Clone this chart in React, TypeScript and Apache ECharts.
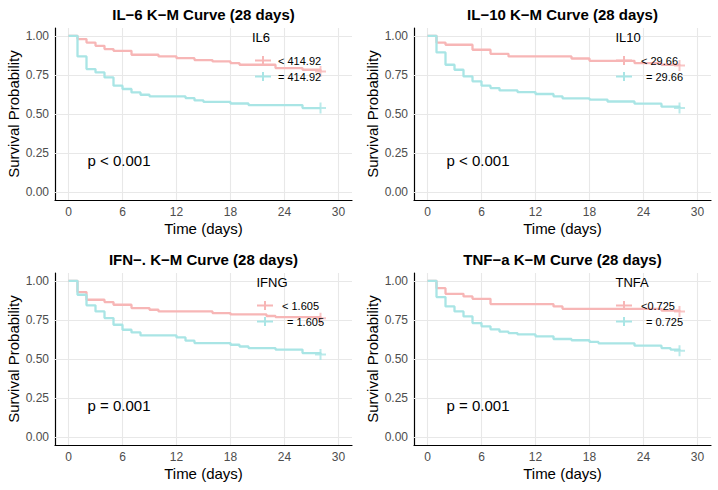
import React, { useEffect, useRef } from "react";
import * as echarts from "echarts";

// Kaplan–Meier step points: [day, survival probability]
const il6Low = [[0, 1], [1, 0.979], [2, 0.957], [3, 0.936], [4, 0.915], [5, 0.904], [7, 0.879], [10, 0.868], [12, 0.857], [14, 0.845], [16, 0.836], [18, 0.826], [19, 0.815], [23, 0.794], [26, 0.783], [28, 0.772]];
const il6High = [[0, 1], [1, 0.868], [2, 0.787], [3, 0.766], [4, 0.734], [5, 0.681], [6, 0.66], [7, 0.638], [8, 0.623], [9, 0.613], [13, 0.602], [14, 0.587], [15, 0.577], [18, 0.567], [20, 0.557], [26, 0.538], [28, 0.538]];
const il10Low = [[0, 1], [1, 0.957], [2, 0.943], [5, 0.911], [7, 0.885], [9, 0.868], [16, 0.855], [18, 0.84], [23, 0.826], [26, 0.815], [28, 0.81]];
const il10High = [[0, 1], [1, 0.894], [2, 0.815], [3, 0.783], [4, 0.74], [5, 0.709], [6, 0.681], [7, 0.666], [8, 0.651], [10, 0.64], [12, 0.628], [14, 0.613], [15, 0.6], [18, 0.592], [20, 0.58], [23, 0.566], [26, 0.547], [28, 0.538]];
const ifnLow = [[0, 1], [1, 0.928], [2, 0.879], [4, 0.864], [5, 0.847], [7, 0.826], [9, 0.815], [10, 0.804], [16, 0.794], [18, 0.785], [22, 0.775], [23, 0.768], [28, 0.76]];
const ifnHigh = [[0, 1], [1, 0.911], [2, 0.843], [3, 0.804], [4, 0.762], [5, 0.719], [6, 0.687], [7, 0.67], [8, 0.651], [12, 0.638], [13, 0.617], [14, 0.602], [18, 0.591], [19, 0.58], [20, 0.57], [23, 0.56], [26, 0.538], [28, 0.528]];
const tnfLow = [[0, 1], [1, 0.953], [2, 0.917], [4, 0.9], [5, 0.885], [7, 0.851], [14, 0.836], [15, 0.821], [26, 0.81], [28, 0.804]];
const tnfHigh = [[0, 1], [1, 0.896], [2, 0.836], [3, 0.804], [4, 0.772], [5, 0.73], [6, 0.709], [7, 0.69], [8, 0.675], [9, 0.666], [10, 0.657], [12, 0.645], [14, 0.628], [16, 0.62], [18, 0.609], [19, 0.6], [23, 0.585], [26, 0.57], [27, 0.56], [28, 0.553]];

const titles = ["IL\u22126 K\u2212M Curve (28 days)", "IL\u221210 K\u2212M Curve (28 days)", "IFN\u2212. K\u2212M Curve (28 days)", "TNF\u2212a K\u2212M Curve (28 days)"];
const legendTitles = ["IL6", "IL10", "IFNG", "TNFA"];
const lowLabels = ["< 414.92", "< 29.66", "< 1.605", "<0.725"];
const highLabels = ["= 414.92", "= 29.66", "= 1.605", "= 0.725"];
const pValues = ["p < 0.001", "p < 0.001", "p = 0.001", "p = 0.001"];
const lowData = [il6Low, il10Low, ifnLow, tnfLow];
const highData = [il6High, il10High, ifnHigh, tnfHigh];

const xTicks = [0, 6, 12, 18, 24, 30];
const yTicks = [0, 0.25, 0.5, 0.75, 1];

const PINK = "#F7B6B6";
const CYAN = "#A9E5E5";
const FONT = "Liberation Sans, Arial, Helvetica, sans-serif";
const CROSS = "path://M0,4.5h11v2h-11z M4.5,0h2v11h-2z";
const KEY = "path://M0,3.5h16v2h-16z M7,0h2v9h-2z";

const offsets = [[0, 0], [359, 0], [0, 245], [359, 245]];

function buildOption() {
  const grid: any[] = [];
  const xAxis: any[] = [];
  const yAxis: any[] = [];
  const series: any[] = [];
  const legend: any[] = [];
  const graphic: any[] = [];

  offsets.forEach(([ox, oy], i) => {
    grid.push({ left: ox + 55, top: oy + 28, width: 297, height: 172 });
    xAxis.push({
      type: "value", gridIndex: i, min: -1.5, max: 31.5, interval: 1.5,
      name: "Time (days)", nameLocation: "middle", nameGap: 21,
      nameTextStyle: { fontSize: 15, color: "#000", fontFamily: FONT },
      axisLine: { show: true, onZero: false, lineStyle: { color: "#000", width: 1.2 } },
      axisTick: { show: false }, splitLine: { show: false },
      axisLabel: {
        margin: 6, fontSize: 12, color: "#4D4D4D", fontFamily: FONT,
        formatter: (v: number) => { const r = Math.round(v * 10); return r >= 0 && r % 60 === 0 ? String(r / 10) : ""; },
      },
    });
    yAxis.push({
      type: "value", gridIndex: i, min: -0.05, max: 1.05, interval: 0.05,
      name: "Survival Probability", nameLocation: "middle", nameGap: 34,
      nameTextStyle: { fontSize: 15, color: "#000", fontFamily: FONT },
      axisLine: { show: true, onZero: false, lineStyle: { color: "#000", width: 1.2 } },
      axisTick: { show: false }, splitLine: { show: false },
      axisLabel: {
        margin: 6, fontSize: 12, color: "#4D4D4D", fontFamily: FONT,
        formatter: (v: number) => { const r = Math.round(v * 100); return r >= 0 && r <= 100 && r % 25 === 0 ? (r / 100).toFixed(2) : ""; },
      },
    });

    // panel grid lines
    series.push({
      type: "line", xAxisIndex: i, yAxisIndex: i, data: [[0, 1]], symbol: "none", showSymbol: false,
      lineStyle: { opacity: 0 }, silent: true,
      markLine: {
        z: 1, silent: true, symbol: ["none", "none"], label: { show: false },
        lineStyle: { color: "#E8E8E8", width: 1.1, type: "solid" },
        emphasis: { disabled: true },
        data: [...xTicks.map((v) => ({ xAxis: v })), ...yTicks.map((v) => ({ yAxis: v }))],
      },
    });

    const groups = [
      { name: lowLabels[i], data: lowData[i], color: PINK },
      { name: highLabels[i], data: highData[i], color: CYAN },
    ];
    groups.forEach((g) => {
      series.push({
        type: "line", name: g.name, xAxisIndex: i, yAxisIndex: i, data: g.data, step: "end",
        symbol: "none", showSymbol: false, z: 3,
        lineStyle: { color: g.color, width: 2.3 }, itemStyle: { color: g.color },
      });
    });
    groups.forEach((g) => {
      series.push({
        type: "scatter", name: "censor", xAxisIndex: i, yAxisIndex: i, z: 4,
        data: [g.data[g.data.length - 1]], symbol: CROSS, symbolSize: 11,
        itemStyle: { color: g.color },
      });
    });

    const keyLeft = i === 0 ? 255 : 257;
    legend.push({
      orient: "vertical", left: ox + keyLeft, top: oy + 55, padding: 0, itemGap: 5,
      itemWidth: 16, itemHeight: 9, icon: KEY, selectedMode: false, z: 6,
      textStyle: { fontSize: 11, color: "#000", fontFamily: FONT, padding: i === 0 ? [0, 0, 0, 2] : [0, 0, 0, 4] },
      data: i === 0
        ? [lowLabels[i], highLabels[i]]
        : [lowLabels[i], { name: highLabels[i], textStyle: { padding: [0, 0, 0, 9] } }],
    });

    graphic.push(
      {
        type: "text", x: ox + 203.5, y: oy + 14, z: 10,
        style: { text: titles[i], fontSize: 15, fontWeight: "bold", fontFamily: FONT, fill: "#000", align: "center", verticalAlign: "middle" },
      },
      {
        type: "text", x: ox + (i === 0 ? 252 : 256.5), y: oy + 37, z: 10,
        style: { text: legendTitles[i], fontSize: 13, fontFamily: FONT, fill: "#000", align: "left", verticalAlign: "middle" },
      },
      {
        type: "text", x: ox + 87.5, y: oy + 160, z: 10,
        style: { text: pValues[i], fontSize: 15, fontFamily: FONT, fill: "#000", align: "left", verticalAlign: "middle" },
      }
    );
  });

  return { animation: false, backgroundColor: "#fff", grid, xAxis, yAxis, series, legend, graphic };
}

export default function App() {
  const ref = useRef<HTMLDivElement>(null);
  useEffect(() => {
    if (!ref.current) return;
    const chart = echarts.init(ref.current, undefined, { renderer: "svg" });
    chart.setOption(buildOption() as any);
    return () => chart.dispose();
  }, []);
  return <div ref={ref} style={{ width: 718, height: 490, position: "absolute", left: 0, top: 0 }} />;
}
